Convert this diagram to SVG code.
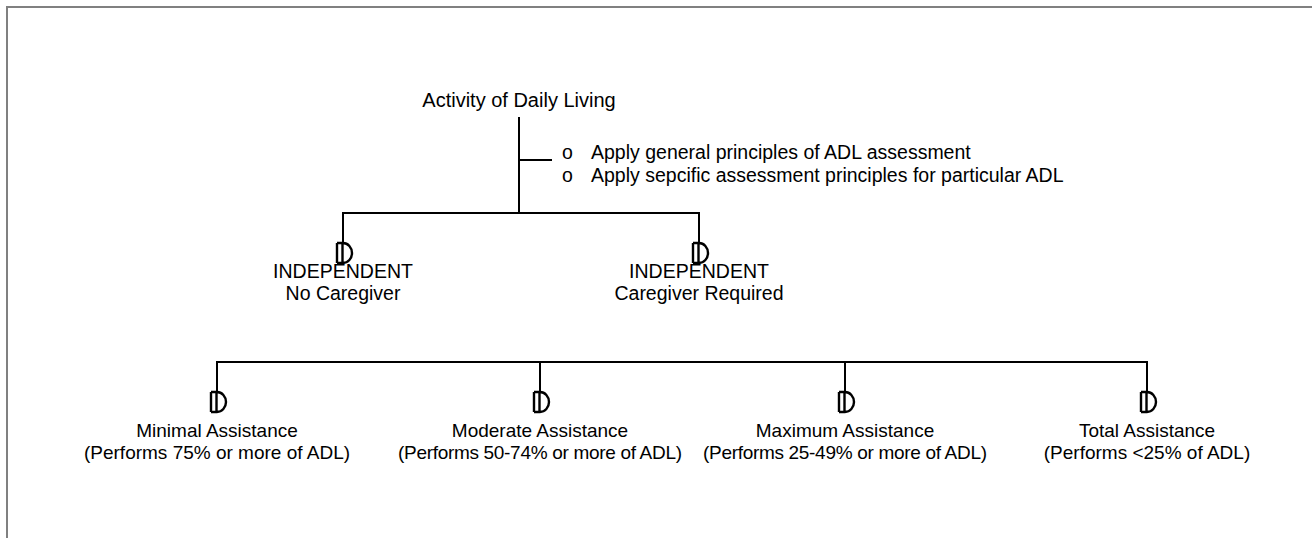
<svg xmlns="http://www.w3.org/2000/svg" width="1312" height="538" viewBox="0 0 1312 538">
<style>
text{font-family:"Liberation Sans",Arial,sans-serif;font-size:19.5px;fill:#000}
.c{text-anchor:middle}
.b{font-size:19px}
.ln{stroke:#000;stroke-width:2;fill:none}
.d{stroke:#000;stroke-width:2.4;fill:none}
</style>
<defs>
<path id="dsym" class="d" d="M-6,0 V20 M-6,0 H0 A9,10 0 0 1 0,20 H-6 M-0.5,0 V20"/>
</defs>
<rect x="7" y="7" width="1400" height="600" fill="none" stroke="#808080" stroke-width="2"/>
<g id="connectors">
<path class="ln" d="M519,117 V213 M519,160 H552"/>
<path class="ln" d="M343,243 V213 H699 V243"/>
<path class="ln" d="M217,392 V362 H1147 V392 M540,362 V392 M845,362 V392"/>
</g>
<g id="root">
<text class="c" x="519" y="107" style="font-size:20px">Activity of Daily Living</text>
</g>
<g id="notes">
<text x="562" y="159">o</text>
<text x="591" y="159">Apply general principles of ADL assessment</text>
<text x="562" y="182">o</text>
<text x="591" y="182">Apply sepcific assessment principles for particular ADL</text>
</g>
<g id="indep-no-caregiver">
<use href="#dsym" x="343" y="243"/>
<text class="c" x="343" y="278">INDEPENDENT</text>
<text class="c" x="343" y="300">No Caregiver</text>
</g>
<g id="indep-caregiver">
<use href="#dsym" x="699" y="243"/>
<text class="c" x="699" y="278">INDEPENDENT</text>
<text class="c" x="699" y="300">Caregiver Required</text>
</g>
<g id="minimal">
<use href="#dsym" x="217" y="392"/>
<text class="c b" x="217" y="437">Minimal Assistance</text>
<text class="c b" x="217" y="459">(Performs 75% or more of ADL)</text>
</g>
<g id="moderate">
<use href="#dsym" x="540" y="392"/>
<text class="c b" x="540" y="437">Moderate Assistance</text>
<text class="c b" x="540" y="459" textLength="284">(Performs 50-74% or more of ADL)</text>
</g>
<g id="maximum">
<use href="#dsym" x="845" y="392"/>
<text class="c b" x="845" y="437">Maximum Assistance</text>
<text class="c b" x="845" y="459" textLength="284">(Performs 25-49% or more of ADL)</text>
</g>
<g id="total">
<use href="#dsym" x="1147" y="392"/>
<text class="c b" x="1147" y="437">Total Assistance</text>
<text class="c b" x="1147" y="459">(Performs &lt;25% of ADL)</text>
</g>
</svg>
